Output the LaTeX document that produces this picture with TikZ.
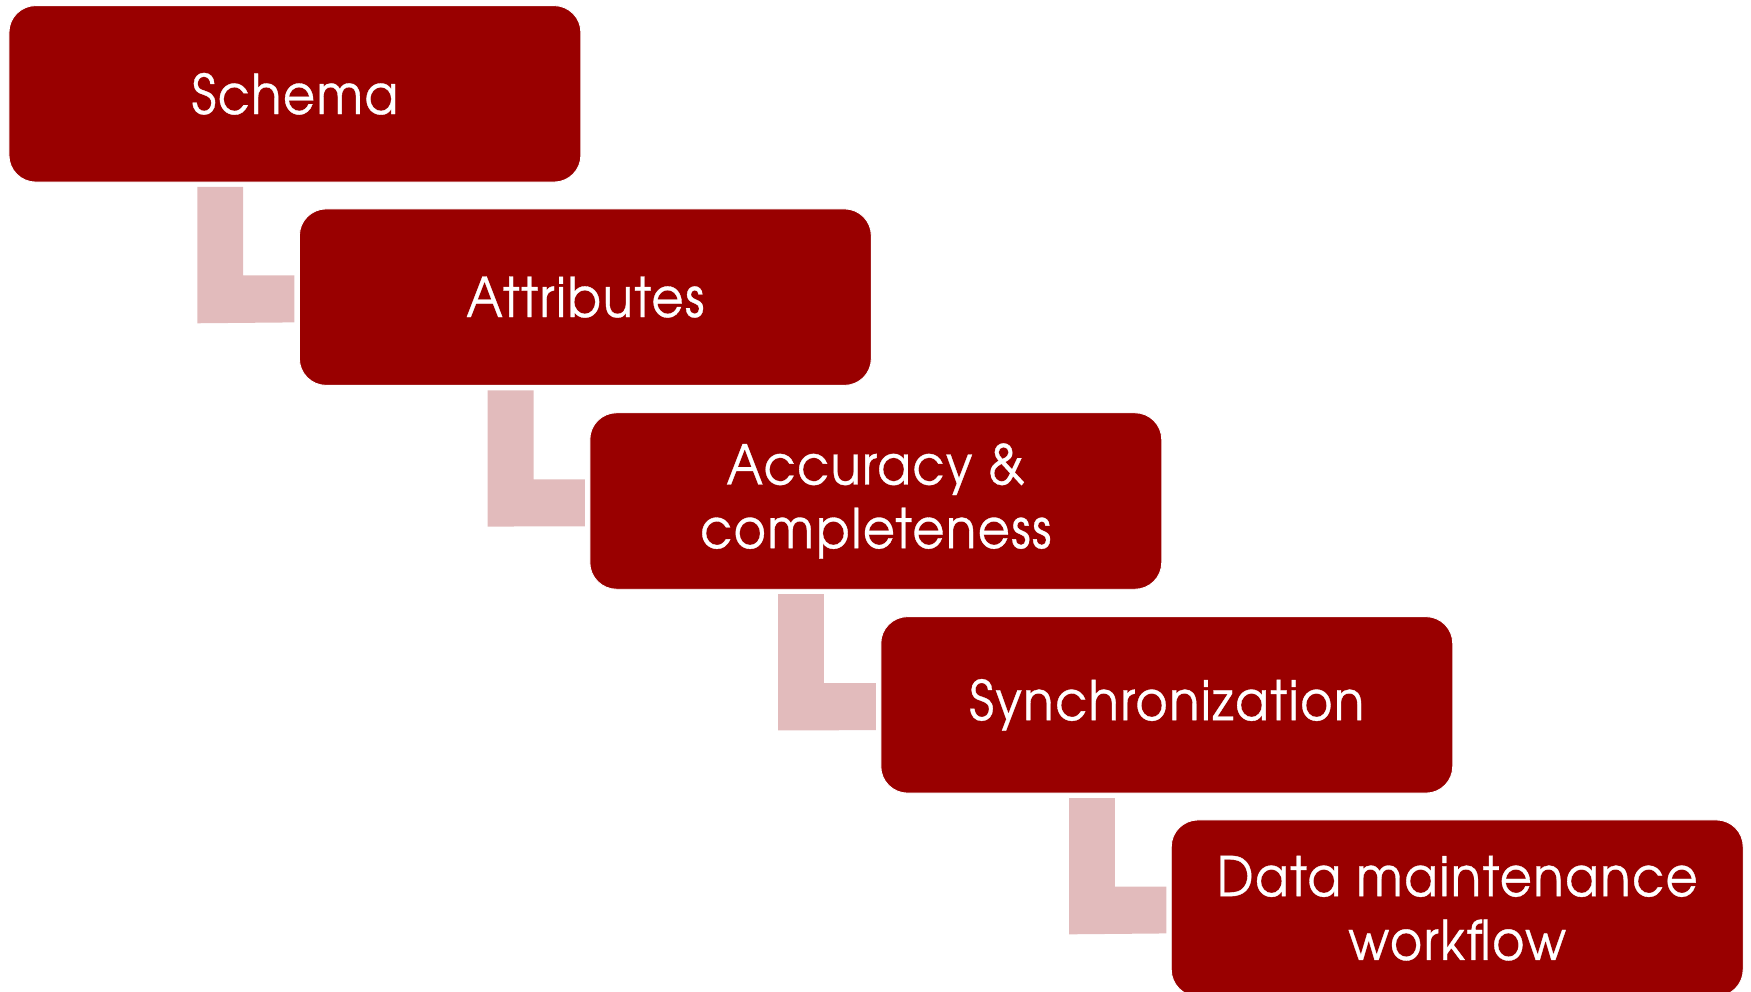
\documentclass[tikz,border=0pt]{standalone}
\usepackage{fontspec}
\setmainfont{TeX Gyre Adventor}[FakeStretch=0.9, LetterSpace=3, FakeBold=0.6]
\usetikzlibrary{calc}
\definecolor{boxred}{HTML}{990000}
\definecolor{lpink}{HTML}{E2BBBC}
\begin{document}
\begin{tikzpicture}[x=1pt,y=-1pt,
  stepbox/.style={fill=boxred, draw=white, line width=0.8pt, rounded corners=24pt,
    minimum width=512pt, minimum height=158pt, inner sep=0pt, text=white,
    align=center, font=\fontsize{49}{57}\selectfont},
  link/.style={fill=lpink}]
\useasboundingbox (0,0) rectangle (1567.5,888);
\clip (0,0) rectangle (1567.5,888);
\node[stepbox] (s1) at (264,84) {Schema};
\node[stepbox] (s2) at (524,266) {Attributes};
\node[stepbox] (s3) at (784,448.5) {Accuracy \&\\completeness};
\node[stepbox] (s4) at (1044.5,631) {Synchronization};
\node[stepbox] (s5) at (1304.5,813) {Data maintenance\\workflow};
\foreach \a/\b in {s1/s2,s2/s3,s3/s4,s4/s5}{
  \fill[link] ($(\a.south west)+(169,4)$) -- ($(\a.south west)+(210,4)$)
    |- ($(\b.north west)+(-4,60)$) -- ($(\b.north west)+(-4,102)$)
    -- ($(\a.south west)+(169,126)$) -- cycle;
}
\end{tikzpicture}
\end{document}
